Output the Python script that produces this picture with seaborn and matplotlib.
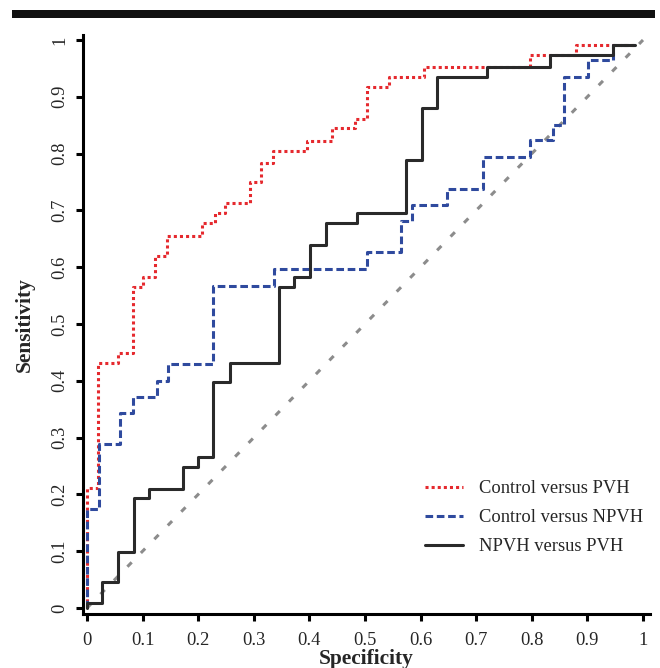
import matplotlib
matplotlib.use("Agg")
import matplotlib.pyplot as plt
import seaborn as sns
from matplotlib.lines import Line2D
from matplotlib.patches import Rectangle

# ROC step vertices (specificity axis, sensitivity)
pvh_x = [0, 0, 0.019, 0.056, 0.082, 0.10, 0.122, 0.143, 0.207, 0.23, 0.248, 0.293,
         0.313, 0.334, 0.396, 0.44, 0.482, 0.503, 0.543, 0.606, 0.797, 0.88, 0.985]
pvh_y = [0, 0.211, 0.431, 0.449, 0.565, 0.583, 0.62, 0.655, 0.678, 0.695, 0.713, 0.75,
         0.783, 0.805, 0.822, 0.845, 0.861, 0.917, 0.935, 0.952, 0.973, 0.991, 0.991]

npvh_x = [0, 0, 0.021, 0.06, 0.082, 0.126, 0.146, 0.227, 0.336, 0.503, 0.565, 0.585,
          0.648, 0.712, 0.797, 0.838, 0.858, 0.901, 0.946, 0.985]
npvh_y = [0, 0.175, 0.289, 0.343, 0.371, 0.40, 0.43, 0.567, 0.597, 0.627, 0.681, 0.709,
          0.738, 0.794, 0.824, 0.85, 0.935, 0.965, 0.991, 0.991]

np_pvh_x = [0, 0, 0.027, 0.055, 0.084, 0.112, 0.172, 0.2, 0.227, 0.257, 0.345, 0.372,
            0.401, 0.43, 0.486, 0.574, 0.602, 0.63, 0.719, 0.833, 0.946, 0.985]
np_pvh_y = [0, 0.008, 0.046, 0.099, 0.193, 0.21, 0.248, 0.266, 0.398, 0.431, 0.565, 0.583,
            0.639, 0.678, 0.695, 0.789, 0.88, 0.935, 0.952, 0.973, 0.991, 0.991]

diag = [0, 1]
ticks = [0, 0.1, 0.2, 0.3, 0.4, 0.5, 0.6, 0.7, 0.8, 0.9, 1]
tick_labels = ["0", "0.1", "0.2", "0.3", "0.4", "0.5", "0.6", "0.7", "0.8", "0.9", "1"]
labels = ["Control versus PVH", "Control versus NPVH", "NPVH versus PVH"]

sns.set_style("white")
plt.rcParams["font.family"] = ["Liberation Serif", "DejaVu Serif"]

W, H = 660, 668
fig = plt.figure(figsize=(6.6, 6.68), dpi=100)
ax = fig.add_axes([83 / W, 54 / H, (650 - 83) / W, (614 - 35) / H])

red, blue, black, gray = "#e5292e", "#2f4a9e", "#2a2a2a", "#8c8c8c"
lw = 2.2

sns.lineplot(x=diag, y=diag, ax=ax, color=gray, lw=lw, linestyle=(0, (2, 4.3)))
sns.lineplot(x=pvh_x, y=pvh_y, ax=ax, sort=False, estimator=None, drawstyle="steps-post",
             color=red, lw=lw, linestyle=(0, (1, 1)))
sns.lineplot(x=npvh_x, y=npvh_y, ax=ax, sort=False, estimator=None, drawstyle="steps-post",
             color=blue, lw=lw, linestyle=(0, (2.5, 1.2)))
sns.lineplot(x=np_pvh_x, y=np_pvh_y, ax=ax, sort=False, estimator=None, drawstyle="steps-post",
             color=black, lw=lw, linestyle="-")

ax.set_xlim(-0.0072, 1.0126)
ax.set_ylim(-0.0106, 1.0088)
ax.set_xticks(ticks)
ax.set_xticklabels(tick_labels)
ax.set_yticks(ticks)
ax.set_yticklabels(tick_labels, rotation=90, va="center")
ax.tick_params(axis="both", direction="out", length=5, width=2.2, color="black",
               labelsize=13.3, left=True, bottom=True)
ax.tick_params(axis="x", pad=8)
ax.tick_params(axis="y", pad=5.5)

for side in ["top", "right"]:
    ax.spines[side].set_visible(False)
for side in ["left", "bottom"]:
    ax.spines[side].set_linewidth(2.2)
    ax.spines[side].set_color("black")

ax.set_xlabel("Specificity", fontsize=15.4, fontweight="bold", labelpad=0)
ax.set_ylabel("Sensitivity", fontsize=15.4, fontweight="bold", labelpad=12)

handles = [
    Line2D([], [], color=red, lw=lw, linestyle=(0, (1, 1))),
    Line2D([], [], color=blue, lw=lw, linestyle=(0, (2.5, 1.2))),
    Line2D([], [], color=black, lw=lw),
]
ax.legend(handles, labels, loc="upper left", bbox_to_anchor=(425 / W, 1 - 480 / H),
          bbox_transform=fig.transFigure, frameon=False, fontsize=13.3,
          handlelength=2.05, handletextpad=0.85, labelspacing=0.66,
          borderpad=0, borderaxespad=0)

# black banner across the top
fig.add_artist(Rectangle((12 / W, 1 - 18 / H), (655 - 12) / W, 8 / H,
                         transform=fig.transFigure, color="#111111", lw=0))

fig.savefig("out.png", dpi=100)
